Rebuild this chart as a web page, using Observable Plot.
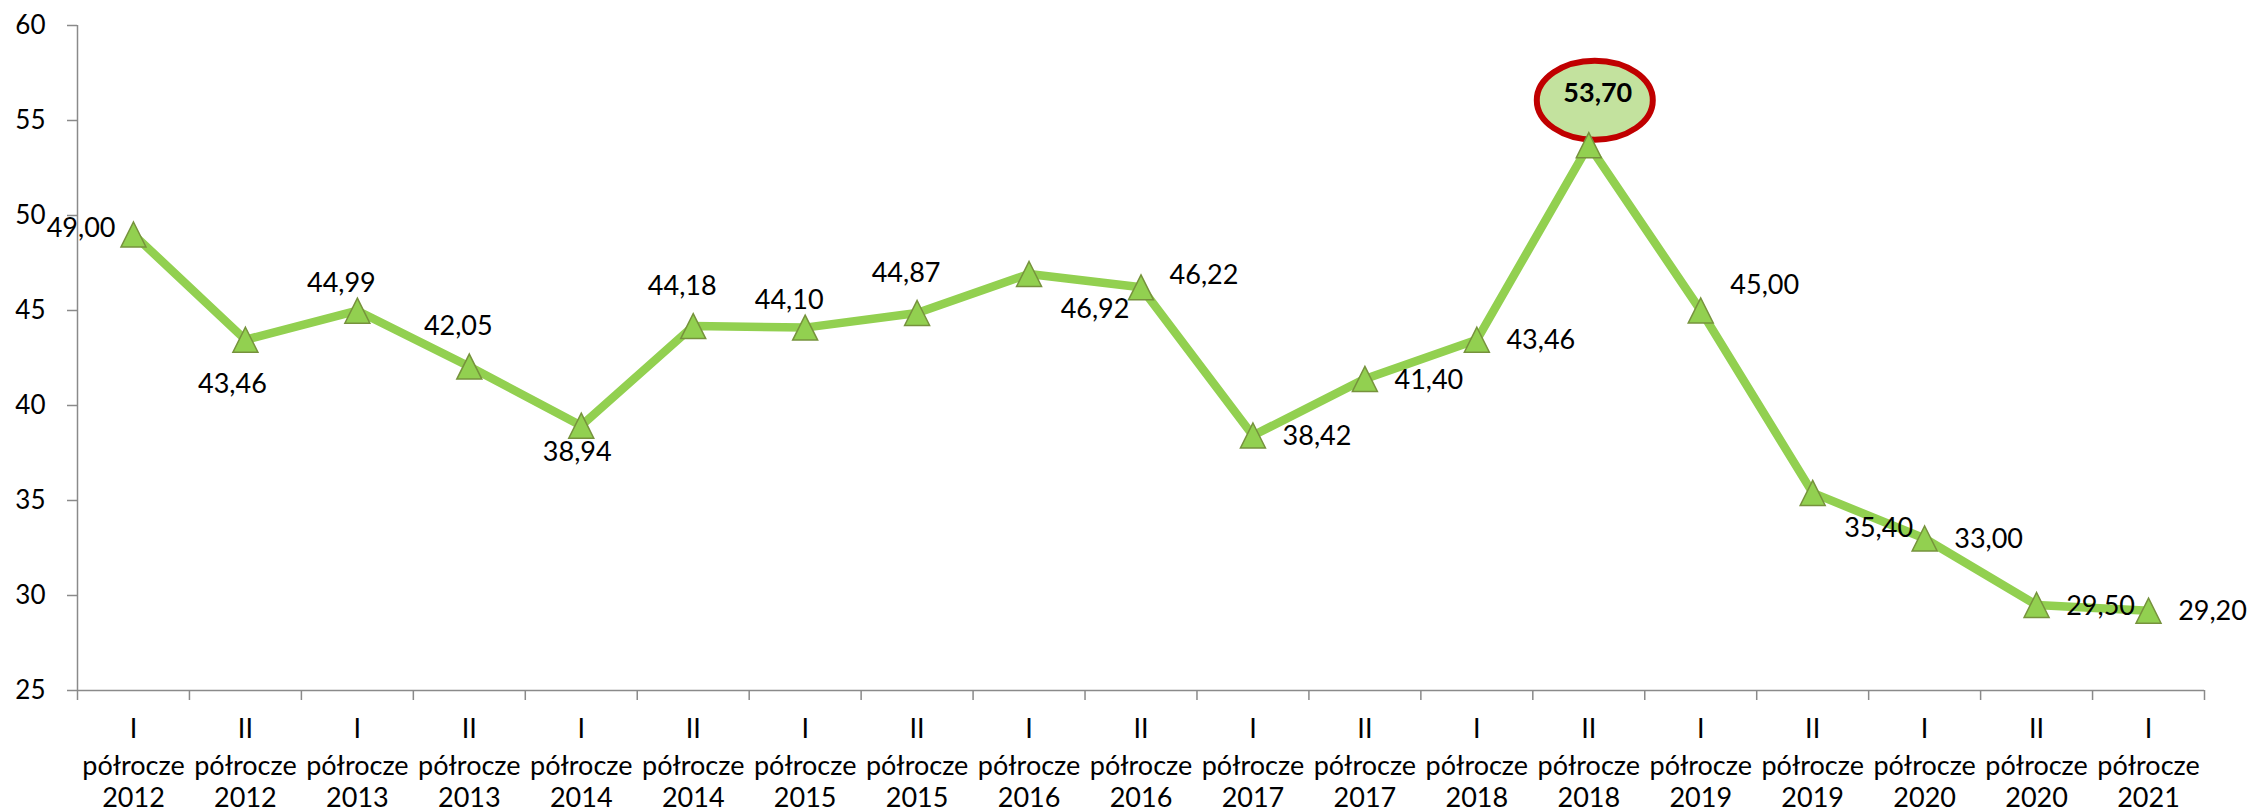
<!DOCTYPE html>
<html><head><meta charset="utf-8">
<script src="https://cdn.jsdelivr.net/npm/d3@7"></script>
<script src="https://cdn.jsdelivr.net/npm/@observablehq/plot@0.6"></script>
<style>html,body{margin:0;padding:0;background:#fff}</style>
</head><body><div id="chart"></div>
<script>
// ---- data ----
const halves = ["I","II","I","II","I","II","I","II","I","II","I","II","I","II","I","II","I","II","I"];
const halfWord = "półrocze";
const years = [2012,2012,2013,2013,2014,2014,2015,2015,2016,2016,2017,2017,2018,2018,2019,2019,2020,2020,2021];
const values = [49.00,43.46,44.99,42.05,38.94,44.18,44.10,44.87,46.92,46.22,38.42,41.40,43.46,53.70,45.00,35.40,33.00,29.50,29.20];
const yTicks = [25,30,35,40,45,50,55,60];
const labelPlacement = ["left","below","aboveNear","above","belowNear","above","aboveNear","above","rightBelow","rightUp","right","right","right","callout","rightHigh","rightBelow","right","right","right"];

// ---- layout ----
const placements = {
  left:       {dx:-18, dy:-6,  textAnchor:"end"},
  below:      {dx:-13, dy:45},
  belowNear:  {dx:-4,  dy:27},
  above:      {dx:-11, dy:-40},
  aboveNear:  {dx:-16, dy:-27},
  right:      {dx:64,  dy:1},
  rightUp:    {dx:63,  dy:-12},
  rightHigh:  {dx:64,  dy:-25},
  rightBelow: {dx:66,  dy:35},
  callout:    {dx:9,   dy:-52, fontWeight:"bold"}
};
const data = values.map((v, i) => ({
  i, v, label: v.toFixed(2).replace(".", ","), place: labelPlacement[i]
}));
const maxI = d3.maxIndex(values);
const boundaries = d3.range(values.length + 1).map(k => k - 0.5);
const idx = d3.range(values.length);

const triangle = {draw(ctx, size) {
  const r = Math.sqrt(size / Math.PI);
  ctx.moveTo(0, -r); ctx.lineTo(r, r); ctx.lineTo(-r, r); ctx.closePath();
}};
const ellipse = {draw(ctx) {
  const rx = 58, ry = 39.5, k = 0.5523;
  ctx.moveTo(rx, 0);
  ctx.bezierCurveTo(rx, ry*k, rx*k, ry, 0, ry);
  ctx.bezierCurveTo(-rx*k, ry, -rx, ry*k, -rx, 0);
  ctx.bezierCurveTo(-rx, -ry*k, -rx*k, -ry, 0, -ry);
  ctx.bezierCurveTo(rx*k, -ry, rx, -ry*k, rx, 0);
  ctx.closePath();
}};

const labelMarks = Object.entries(placements).map(([key, p]) =>
  Plot.text(data.filter(d => d.place === key), {
    x: "i", y: "v", text: "label", fill: "black", fontSize: 27,
    textAnchor: p.textAnchor || "middle", fontWeight: p.fontWeight || "normal",
    dx: p.dx, dy: p.dy
  })
);

const axisColor = "#8a8a8a";
const xLabelLine = (fmt, pad) => Plot.axisX(idx, {
  tickSize: 0, tickPadding: pad, fontSize: 27, fill: "black", label: null, tickFormat: fmt
});

const chart = Plot.plot({
  width: 2257, height: 812,
  marginLeft: 77, marginRight: 53, marginTop: 25, marginBottom: 122,
  style: {fontFamily: "Lato, 'Open Sans', sans-serif", background: "white", color: "black"},
  x: {type: "linear", domain: [-0.5, values.length - 0.5]},
  y: {domain: [25, 60]},
  marks: [
    Plot.ruleX([-0.5], {y1: 25, y2: 60, stroke: axisColor, strokeWidth: 1.5}),
    Plot.ruleY([25], {x1: -0.5, x2: values.length - 0.5, stroke: axisColor, strokeWidth: 1.5}),
    Plot.axisY(yTicks, {tickSize: 10, tickPadding: 22, fontSize: 26, stroke: axisColor, strokeWidth: 1.5, fill: "black", label: null, tickFormat: d => String(d)}),
    Plot.axisX(boundaries, {tickSize: 10, stroke: axisColor, strokeWidth: 1.5, label: null, tickFormat: () => ""}),
    xLabelLine(i => halves[i], 28),
    xLabelLine(() => halfWord, 65),
    xLabelLine(i => String(years[i]), 97),
    Plot.line(data, {x: "i", y: "v", stroke: "#92D050", strokeWidth: 8.5}),
    Plot.dot([data[maxI]], {x: "i", y: "v", dx: 6, dy: -45, symbol: ellipse, r: 1, fill: "#C3E29E", stroke: "#C00000", strokeWidth: 6}),
    Plot.dot(data, {x: "i", y: "v", symbol: triangle, r: 12.5, fill: "#92D050", stroke: "#76923C", strokeWidth: 1.5}),
    ...labelMarks
  ]
});
document.getElementById("chart").appendChild(chart);
</script>
</body></html>
